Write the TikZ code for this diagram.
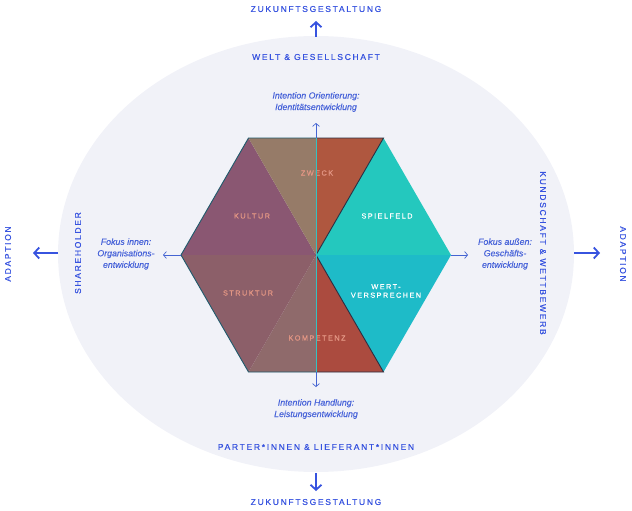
\documentclass[tikz,border=0pt]{standalone}
\usepackage{fontspec}
\usetikzlibrary{arrows.meta}
\setmainfont{Liberation Sans}
\newfontfamily\spacedfont[LetterSpace=20,FakeBold=0.5]{Liberation Sans}
\newfontfamily\fieldfont[LetterSpace=20,FakeBold=0.5]{Liberation Sans}
\newfontfamily\notefont[FakeBold=0.3]{Liberation Sans}
\definecolor{ink}{HTML}{3753DF}
\definecolor{noteink}{HTML}{4763D9}
\definecolor{axisblue}{HTML}{4464D2}
\definecolor{bgfill}{HTML}{F1F2F8}
\definecolor{rim}{HTML}{1F5A6C}
\definecolor{darkrim}{HTML}{2B2F42}
\definecolor{salmon}{HTML}{E39684}
\definecolor{kulturc}{HTML}{8A5772}
\definecolor{zweckl}{HTML}{967B68}
\definecolor{zweckr}{HTML}{AF573F}
\definecolor{spielc}{HTML}{24C8BE}
\definecolor{wertc}{HTML}{1EBBC8}
\definecolor{kompr}{HTML}{AB4B3F}
\definecolor{kompl}{HTML}{8F6A6B}
\definecolor{strukc}{HTML}{8C5F69}
\definecolor{axisteal}{HTML}{34C2C2}
\begin{document}
\begin{tikzpicture}[x=1pt,y=-1pt,
  caps/.style={text=ink,font=\spacedfont\fontsize{8.5}{9}\selectfont,inner sep=1pt},
  note/.style={text=noteink,font=\notefont\itshape\fontsize{8.8}{11.5}\selectfont,align=center,inner sep=1pt},
  field/.style={font=\fieldfont\fontsize{7.3}{8.5}\selectfont,align=center,inner sep=1pt},
  axis/.style={draw=axisblue,line width=0.7pt},
  tip/.style={-{Straight Barb[length=3pt,width=7pt]}},
  bigarrow/.style={draw=ink,line width=1.8pt,-{Straight Barb[length=5pt,width=11pt]}}]
\useasboundingbox (0,0) rectangle (632,511);
\fill[bgfill] (316,254) ellipse [x radius=258pt, y radius=218pt];

% hexagon corners
\coordinate (o) at (316,255);
\coordinate (r) at (451,255);
\coordinate (tr) at (383.5,138);
\coordinate (t) at (316,138);
\coordinate (tl) at (248.5,138);
\coordinate (l) at (181,255);
\coordinate (bl) at (248.5,372);
\coordinate (b) at (316,372);
\coordinate (br) at (383.5,372);

\fill[kulturc] (o) -- (l) -- (tl) -- cycle;
\fill[zweckl] (o) -- (tl) -- (t) -- cycle;
\fill[zweckr] (o) -- (t) -- (tr) -- cycle;
\fill[spielc] (o) -- (tr) -- (r) -- cycle;
\fill[wertc] (o) -- (r) -- (br) -- cycle;
\fill[kompr] (o) -- (br) -- (b) -- cycle;
\fill[kompl] (o) -- (b) -- (bl) -- cycle;
\fill[strukc] (o) -- (bl) -- (l) -- cycle;

\draw[rim,line width=0.9pt] (t) -- (tl) -- (l) -- (bl) -- (b);
\draw[darkrim,line width=0.9pt] (t) -- (tr) -- (o) -- (br) -- (b);

\node[field,text=salmon] (zweck) at (317,173) {ZWECK};
\node[field,text=salmon] (kultur) at (252,216) {KULTUR};
\node[field,text=white] (spielfeld) at (387,216) {SPIELFELD};
\node[field,text=salmon] (struktur) at (248,293) {STRUKTUR};
\node[field,text=white] (wert) at (386,291) {WERT-\\VERSPRECHEN};
\node[field,text=salmon] (kompetenz) at (317,338) {KOMPETENZ};

% axes
\coordinate (vt) at (316,123);
\coordinate (vb) at (316,387);
\coordinate (hl) at (163,255);
\coordinate (hr) at (468,255);
\draw[axis,{Straight Barb[length=3pt,width=7pt]}-{Straight Barb[length=3pt,width=7pt]}] (vt) -- (vb);
\draw[axisteal,line width=0.7pt] (t) -- (b);
\draw[axis,tip] (l) -- (hl);
\draw[axis,tip] (r) -- (hr);

\node[note] (orient) at (316,102) {Intention Orientierung:\\Identitätsentwicklung};
\node[note] (handlung) at (316,409) {Intention Handlung:\\Leistungsentwicklung};
\node[note] (innen) at (126,254) {Fokus innen:\\Organisations-\\entwicklung};
\node[note] (aussen) at (505,254) {Fokus außen:\\Geschäfts-\\entwicklung};

\node[caps] (welt) at (316,57) {WELT \& GESELLSCHAFT};
\node[caps] (partner) at (316,447) {PARTER*INNEN \& LIEFERANT*INNEN};
\node[caps,rotate=90] (share) at (78,253) {SHAREHOLDER};
\node[caps,rotate=-90] (kunde) at (543,253) {KUNDSCHAFT \& WETTBEWERB};

\node[caps] (futtop) at (316,9) {ZUKUNFTSGESTALTUNG};
\node[caps] (futbot) at (316,502) {ZUKUNFTSGESTALTUNG};
\node[caps,rotate=90] (adleft) at (8,254) {ADAPTION};
\node[caps,rotate=-90] (adright) at (623,254) {ADAPTION};

% outward arrows
\coordinate (etop) at (316,37);
\coordinate (ebot) at (316,473);
\coordinate (eleft) at (58,253);
\coordinate (eright) at (574,253);
\coordinate (atop) at (316,21);
\coordinate (abot) at (316,491);
\coordinate (aleft) at (33,253);
\coordinate (aright) at (600,253);
\draw[bigarrow] (etop) -- (atop);
\draw[bigarrow] (ebot) -- (abot);
\draw[bigarrow] (eleft) -- (aleft);
\draw[bigarrow] (eright) -- (aright);

\end{tikzpicture}
\end{document}
